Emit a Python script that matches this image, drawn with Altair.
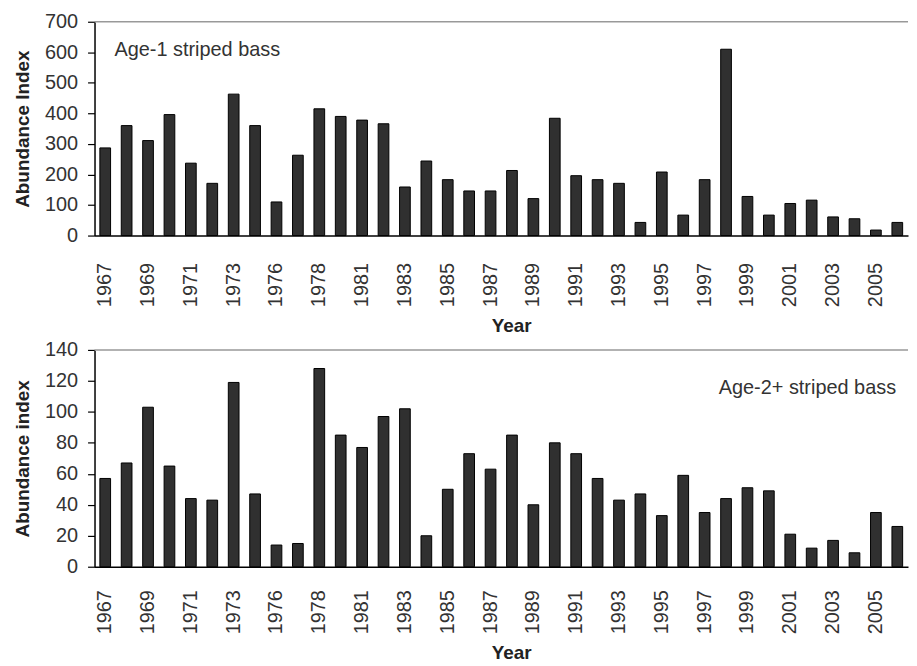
import altair as alt
import pandas as pd

years = ["1967", "1968", "1969", "1970", "1971", "1972", "1973", "1974",
         "1976", "1977", "1978", "1979", "1981", "1982", "1983", "1984",
         "1985", "1986", "1987", "1988", "1989", "1990", "1991", "1992",
         "1993", "1994", "1995", "1996", "1997", "1998", "1999", "2000",
         "2001", "2002", "2003", "2004", "2005", "2006"]

age1 = [287, 360, 311, 396, 237, 171, 463, 360,
        110, 263, 415, 390, 378, 366, 159, 244,
        183, 146, 146, 213, 121, 384, 196, 183,
        171, 43, 208, 67, 183, 610, 128, 67,
        105, 116, 61, 55, 18, 43]

age2 = [57, 67, 103, 65, 44, 43, 119, 47,
        14, 15, 128, 85, 77, 97, 102, 20,
        50, 73, 63, 85, 40, 80, 73, 57,
        43, 47, 33, 59, 35, 44, 51, 49,
        21, 12, 17, 9, 35, 26]

label_years = years[::2]
top_ticks = [0, 100, 200, 300, 400, 500, 600, 700]
bottom_ticks = [0, 20, 40, 60, 80, 100, 120, 140]

df = pd.DataFrame({"year": years, "age1": age1, "age2": age2})

FONT = "Liberation Sans"
W = 818


def panel(field, ymax, ticks, ytitle, label, lx, ly, lalign, h, xlp, xtp):
    xenc = alt.X("year:N", sort=years,
                 scale=alt.Scale(paddingInner=0.5, paddingOuter=0.25),
                 axis=alt.Axis(values=label_years, labelAngle=270, ticks=False,
                               tickSize=0, labelPadding=xlp, title="Year",
                               titlePadding=xtp, titleX=W / 2 + 10,
                               labelOverlap=False))
    yscale = alt.Scale(domain=[0, ymax], nice=False)
    yaxis = alt.Axis(values=ticks, title=ytitle, grid=False,
                     tickSize=7, labelPadding=10, titlePadding=12,
                     labelOverlap=False)
    bars = alt.Chart(df).mark_bar(fill="#303030", stroke="black", strokeWidth=1).encode(
        x=xenc,
        y=alt.Y(f"{field}:Q", scale=yscale, axis=yaxis),
    )
    top_df = pd.DataFrame({field: [ymax]})
    frame = alt.Chart(top_df).mark_rule(color="#999999", strokeWidth=1.5).encode(
        y=alt.Y(f"{field}:Q", scale=yscale, axis=yaxis)
    )
    lab_df = pd.DataFrame({"label": [label]})
    txt = alt.Chart(lab_df).mark_text(align=lalign, baseline="middle", fontSize=20,
                                      font=FONT, color="#333333").encode(
        x=alt.value(lx), y=alt.value(ly), text="label:N"
    )
    return alt.layer(bars, frame, txt).properties(width=W, height=h)


top = panel("age1", 700, top_ticks, "Abundance Index", "Age-1 striped bass",
            20, 28, "left", 215, 27, 10)
bottom = panel("age2", 140, bottom_ticks, "Abundance index",
               "Age-2+ striped bass", 806, 38, "right", 218, 23, 10)

chart = alt.vconcat(top, bottom, spacing=4).properties(
    padding={"left": 5, "top": 2, "right": 0, "bottom": 0},
    background="white",
).configure_view(stroke=None).configure_axis(
    domainColor="black", domainWidth=1.5, tickColor="black", tickWidth=1.2,
    labelFont=FONT, labelFontSize=20, labelColor="#333333",
    titleFont=FONT, titleFontSize=19, titleFontWeight="bold", titleColor="#222222",
)

chart.save("out.html", embed_options={"renderer": "svg", "actions": False})
